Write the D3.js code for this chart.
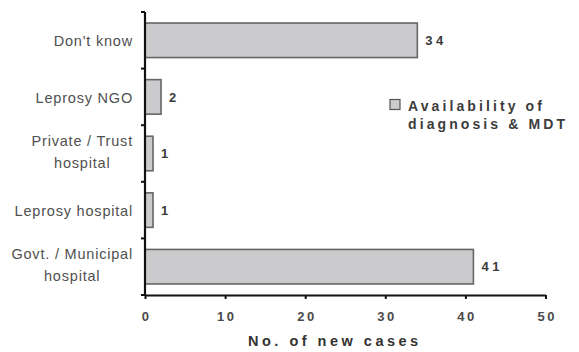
<!DOCTYPE html>
<html>
<head>
<meta charset="utf-8">
<script src="https://cdn.jsdelivr.net/npm/d3@7/dist/d3.min.js"></script>
<style>
  html, body { margin: 0; padding: 0; background: #fff; }
  svg { display: block; }
  text { font-family: "Liberation Sans", Arial, sans-serif; }
</style>
</head>
<body>
<svg id="chart" width="579" height="352"></svg>
<script>
// Source of diagnosis & MDT (multi-drug therapy) for new leprosy cases
const categories = [
  ["Don't know"],
  ["Leprosy NGO"],
  ["Private / Trust", "hospital"],
  ["Leprosy hospital"],
  ["Govt. / Municipal", "hospital"]
];
const values = [34, 2, 1, 1, 41];
const xTicks = [0, 10, 20, 30, 40, 50];
const seriesName = ["Availability of", "diagnosis & MDT"];
const xTitle = "No. of new cases";

const svg = d3.select("#chart");
const plotLeft = 145, plotRight = 545.5, plotTop = 12, plotBottom = 295;

const x = d3.scaleLinear().domain([0, 50]).range([plotLeft, plotRight]);
const y = d3.scaleBand()
  .domain(d3.range(categories.length))
  .range([plotTop, plotBottom])
  .paddingInner(0.39)
  .paddingOuter(0.195);

// Bars
svg.append("g").selectAll("rect")
  .data(values)
  .join("rect")
  .attr("x", x(0))
  .attr("y", (d, i) => y(i))
  .attr("width", d => x(d) - x(0))
  .attr("height", y.bandwidth())
  .attr("fill", "#cbcbcd")
  .attr("stroke", "#666")
  .attr("stroke-width", 1.6);

// Value labels
svg.append("g").selectAll("text")
  .data(values)
  .join("text")
  .attr("x", d => x(d) + 8)
  .attr("y", (d, i) => y(i) + y.bandwidth() / 2)
  .attr("dy", "0.36em")
  .attr("font-size", 13)
  .attr("font-weight", "bold")
  .attr("letter-spacing", "3.5px")
  .attr("fill", "#3a3a3a")
  .text(d => d);

// X axis
const xAxis = svg.append("g")
  .attr("transform", `translate(0,${plotBottom})`)
  .call(d3.axisBottom(x).tickValues(xTicks).tickSize(4).tickSizeOuter(0).tickPadding(13));
xAxis.select(".domain").attr("stroke", "#111").attr("stroke-width", 2.2);
xAxis.selectAll(".tick line").attr("stroke", "#111").attr("stroke-width", 2);
xAxis.selectAll(".tick text")
  .attr("font-size", 13)
  .attr("font-weight", "bold")
  .attr("letter-spacing", "2.5px")
  .attr("dx", "1.2px")
  .attr("fill", "#4a4a4a")
  .attr("font-family", "'Liberation Sans', Arial, sans-serif");

// Y axis: ticks at category boundaries, pointing left
const yEdges = d3.range(categories.length + 1)
  .map(i => plotTop + i * (plotBottom - plotTop) / categories.length);
svg.append("line")
  .attr("x1", plotLeft).attr("x2", plotLeft)
  .attr("y1", plotTop).attr("y2", plotBottom)
  .attr("stroke", "#111").attr("stroke-width", 2.2);
svg.append("g").selectAll("line")
  .data(yEdges)
  .join("line")
  .attr("x1", plotLeft - 4).attr("x2", plotLeft)
  .attr("y1", d => d).attr("y2", d => d)
  .attr("stroke", "#111").attr("stroke-width", 2);

// Category labels (two-line labels are centred under their first line)
const labelRight = 133;
svg.append("g").selectAll("text")
  .data(categories)
  .join("text")
  .attr("font-size", 14.5)
  .attr("fill", "#505050")
  .attr("letter-spacing", "0.8px")
  .each(function(lines, i) {
    const t = d3.select(this);
    const cy = y(i) + y.bandwidth() / 2;
    if (lines.length === 1) {
      t.attr("text-anchor", "end")
        .attr("x", labelRight).attr("y", cy + 0.5).attr("dy", "0.36em")
        .text(lines[0]);
    } else {
      t.attr("text-anchor", "middle");
      const first = t.append("tspan").attr("y", cy - 12.5).attr("dy", "0.36em").text(lines[0]);
      const w = first.node().getComputedTextLength();
      const cx = labelRight - w / 2;
      first.attr("x", cx);
      t.append("tspan").attr("x", cx).attr("y", cy + 9.5).attr("dy", "0.36em").text(lines[1]);
    }
  });

// Legend
const lg = svg.append("g").attr("transform", "translate(390,99.5)");
lg.append("rect")
  .attr("width", 10).attr("height", 10)
  .attr("fill", "#cbcbcd").attr("stroke", "#555").attr("stroke-width", 1.2);
seriesName.forEach((s, k) => {
  lg.append("text")
    .attr("x", 18)
    .attr("y", 11.5 + k * 18)
    .attr("font-size", 14)
    .attr("font-weight", "bold")
    .attr("letter-spacing", "3.1px")
    .attr("fill", "#3c3c3c")
    .text(s);
});

// Axis title
svg.append("text")
  .attr("x", plotLeft + 103)
  .attr("y", 346)
  .attr("font-size", 14.5)
  .attr("font-weight", "bold")
  .attr("letter-spacing", "3.5px")
  .attr("fill", "#333")
  .text(xTitle);
</script>
</body>
</html>
